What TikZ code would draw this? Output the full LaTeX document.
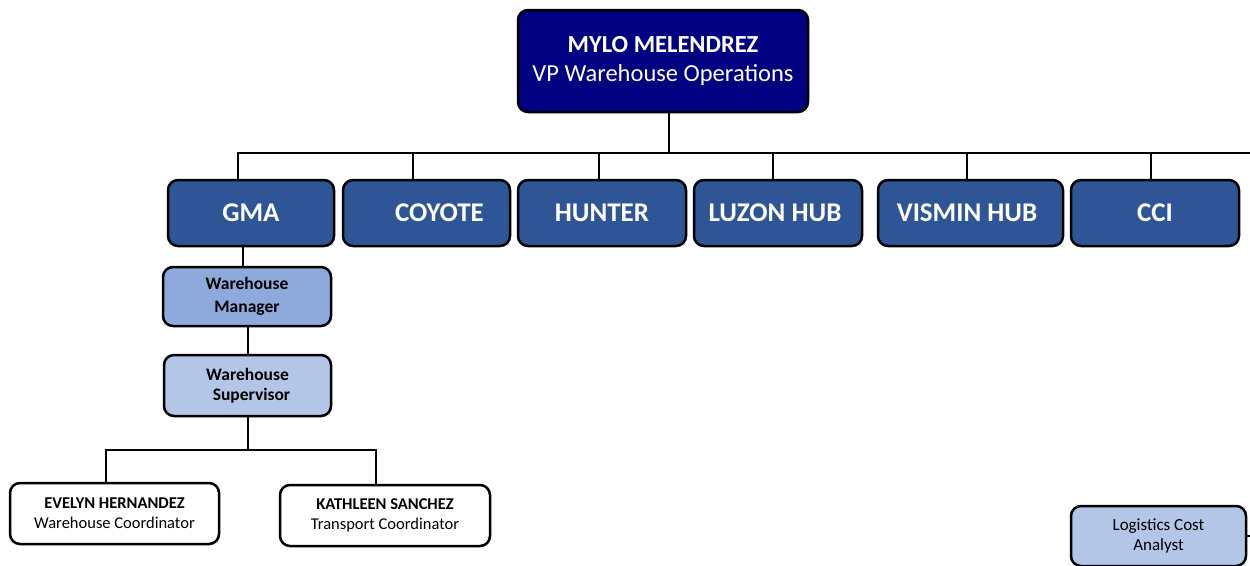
\documentclass[tikz,border=0pt]{standalone}
\usepackage{fontspec}
\setmainfont{Carlito}
\definecolor{navybox}{HTML}{000080}
\definecolor{rowblue}{HTML}{2F5597}
\definecolor{mgrblue}{HTML}{8EA9DB}
\definecolor{supblue}{HTML}{B4C6E7}
\begin{document}
\begin{tikzpicture}[x=1pt,y=-1pt,
  box/.style={draw=black,line width=2.5pt,rounded corners=10pt,inner sep=0pt,align=center},
  topbox/.style={box,fill=navybox,text=white,minimum width=290pt,minimum height=102pt,font=\fontsize{24.5}{29}\selectfont},
  rowbox/.style={box,fill=rowblue,text=white,minimum height=66pt,font=\fontsize{27}{30}\selectfont\bfseries},
  mgrbox/.style={box,fill=mgrblue,text=black,font=\fontsize{17.5}{23}\selectfont\bfseries},
  supbox/.style={box,fill=supblue,text=black,font=\fontsize{17.5}{20}\selectfont\bfseries},
  perbox/.style={box,fill=white,text=black,minimum height=61pt,font=\fontsize{16.5}{20}\selectfont},
  conn/.style={draw=black,line width=2pt}]
\useasboundingbox (0,0) rectangle (1250,565);
% top
\node[topbox] (top) at (663,61) {{\bfseries MYLO MELENDREZ}\\VP Warehouse Operations};
% row
\node[rowbox,minimum width=166pt] (gma) at (251,213) {GMA};
\node[rowbox,minimum width=167pt] (coy) at (426.5,213) {\hspace*{26pt}COYOTE};
\node[rowbox,minimum width=168pt] (hun) at (602,213) {HUNTER};
\node[rowbox,minimum width=168pt] (luz) at (778,213) {LUZON HUB\hspace*{6pt}};
\node[rowbox,minimum width=185pt] (vis) at (970.5,213) {VISMIN HUB\hspace*{7pt}};
\node[rowbox,minimum width=168pt] (cci) at (1155,213) {CCI};
% bus
\coordinate (busR) at (1250,153);
\draw[conn] ([xshift=6pt]top.south) -- ([xshift=6pt]top.south |- busR);
\draw[conn] ([xshift=-13pt]gma.north) |- (busR);
\draw[conn] ([xshift=-13.5pt]coy.north) -- ([xshift=-13.5pt]coy.north |- busR);
\draw[conn] ([xshift=-3pt]hun.north) -- ([xshift=-3pt]hun.north |- busR);
\draw[conn] ([xshift=-5pt]luz.north) -- ([xshift=-5pt]luz.north |- busR);
\draw[conn] ([xshift=-3.5pt]vis.north) -- ([xshift=-3.5pt]vis.north |- busR);
\draw[conn] ([xshift=-4pt]cci.north) -- ([xshift=-4pt]cci.north |- busR);
% GMA branch
\node[mgrbox,minimum width=168pt,minimum height=59pt] (mgr) at (247,296.5) {Warehouse\\Manager};
\node[supbox,minimum width=167pt,minimum height=61pt] (sup) at (247.5,385.5) {Warehouse\\\hspace*{8pt}Supervisor};
\draw[conn] ([xshift=-8pt]gma.south) -- ([xshift=-8pt]gma.south |- mgr.north);
\draw[conn] ([xshift=1pt]mgr.south) -- ([xshift=1pt]mgr.south |- sup.north);
\node[perbox,minimum width=209pt] (eve) at (114.5,513.5) {{\bfseries EVELYN HERNANDEZ}\\Warehouse Coordinator};
\node[perbox,minimum width=210pt] (kat) at (385,515.5) {{\bfseries KATHLEEN SANCHEZ}\\Transport Coordinator};
\coordinate (sbus) at (248,450);
\draw[conn] ([xshift=0.5pt]sup.south) -- (sbus);
\draw[conn] ([xshift=-8.5pt]eve.north) |- ([xshift=-9pt]kat.north |- sbus) -- ([xshift=-9pt]kat.north);
% logistics
\node[box,fill=supblue,text=black,minimum width=175pt,minimum height=60pt,font=\fontsize{17}{20}\selectfont] (log) at (1158.5,536) {Logistics Cost\\Analyst};
\coordinate (logR) at (1250,536);
\draw[conn] (log.east) -- (logR);
\end{tikzpicture}
\end{document}
